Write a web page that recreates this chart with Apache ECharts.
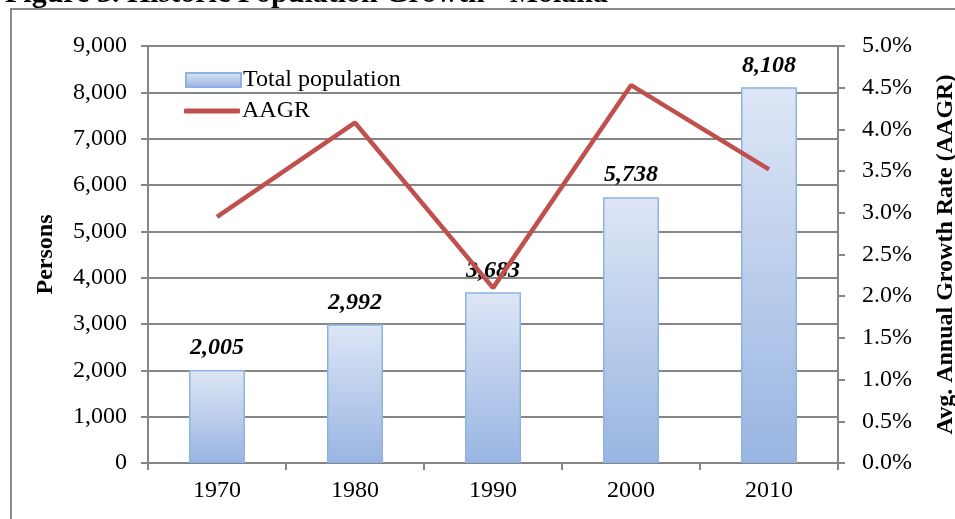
<!DOCTYPE html>
<html>
<head>
<meta charset="utf-8">
<script src="https://cdn.jsdelivr.net/npm/echarts@6/dist/echarts.min.js"></script>
<style>
  html, body { margin: 0; padding: 0; background: #fff; }
  #chart { width: 955px; height: 519px; }
</style>
</head>
<body>
<div id="chart"></div>
<script>
// Census years, total population and average annual growth rate (%)
const years = ['1970', '1980', '1990', '2000', '2010'];
const population = [2005, 2992, 3683, 5738, 8108];
const aagr = [2.95, 4.08, 2.10, 4.53, 3.52];

const serif = '"Liberation Serif", "Times New Roman", serif';
const axisGray = '#868686';
const lineRed = '#C0504D';

const chart = echarts.init(document.getElementById('chart'), null, { renderer: 'canvas' });

const fmtThousands = v => Number(v).toLocaleString('en-US');

const legendText = { fontFamily: serif, fontSize: 24, color: '#000', padding: [0, 0, 0, -3] };

chart.setOption({
  animation: false,
  backgroundColor: '#ffffff',
  textStyle: { fontFamily: serif },
  graphic: [
    {
      type: 'text',
      left: 5,
      top: -21,
      style: {
        text: 'Figure 3. Historic Population Growth - Molana',
        font: 'bold 30px ' + serif,
        fill: '#000'
      }
    },
    {
      type: 'line',
      shape: { x1: 11, y1: 9, x2: 11, y2: 519 },
      style: { stroke: '#8a8a8a', lineWidth: 2 }
    },
    {
      type: 'line',
      shape: { x1: 10, y1: 9, x2: 955, y2: 9 },
      style: { stroke: '#8a8a8a', lineWidth: 2 }
    }
  ],
  legend: [
    {
      left: 185,
      top: 68,
      padding: 0,
      itemWidth: 55,
      itemHeight: 14,
      textStyle: legendText,
      data: [{ name: 'Total population', icon: 'rect' }]
    },
    {
      left: 184,
      top: 99,
      padding: 0,
      itemWidth: 56,
      itemHeight: 5,
      textStyle: legendText,
      data: [{ name: 'AAGR', icon: 'roundRect', itemStyle: { color: lineRed } }]
    }
  ],
  grid: { left: 148, right: 117, top: 46, bottom: 56, outerBoundsMode: 'none', containLabel: false },
  xAxis: {
    type: 'category',
    data: years,
    boundaryGap: true,
    axisLine: { show: true, lineStyle: { color: axisGray, width: 2 } },
    axisTick: { show: true, alignWithLabel: false, length: 7, lineStyle: { color: axisGray, width: 2 } },
    axisLabel: { fontFamily: serif, fontSize: 24, color: '#000', margin: 16 }
  },
  yAxis: [
    {
      type: 'value',
      min: 0,
      max: 9000,
      interval: 1000,
      name: 'Persons',
      nameLocation: 'middle',
      nameGap: 90,
      nameTextStyle: { fontFamily: serif, fontSize: 24, fontWeight: 'bold', color: '#000' },
      axisLine: { show: true, lineStyle: { color: axisGray, width: 2 } },
      axisTick: { show: true, length: 7, lineStyle: { color: axisGray, width: 2 } },
      axisLabel: { fontFamily: serif, fontSize: 24, color: '#000', margin: 21, formatter: fmtThousands },
      splitLine: { show: true, lineStyle: { color: axisGray, width: 2 } }
    },
    {
      type: 'value',
      min: 0,
      max: 5,
      interval: 0.5,
      position: 'right',
      name: 'Avg. Annual Growth Rate (AAGR)',
      nameLocation: 'middle',
      nameGap: 96,
      nameRotate: 90,
      nameTextStyle: { fontFamily: serif, fontSize: 24, fontWeight: 'bold', color: '#000' },
      axisLine: { show: true, lineStyle: { color: axisGray, width: 2 } },
      axisTick: { show: true, length: 7, lineStyle: { color: axisGray, width: 2 } },
      axisLabel: { fontFamily: serif, fontSize: 24, color: '#000', margin: 24, formatter: v => v.toFixed(1) + '%' },
      splitLine: { show: false }
    }
  ],
  series: [
    {
      name: 'Total population',
      type: 'bar',
      yAxisIndex: 0,
      data: population,
      barWidth: 56,
      z: 2,
      itemStyle: {
        color: new echarts.graphic.LinearGradient(0, 0, 0, 1, [
          { offset: 0, color: '#DDE6F5' },
          { offset: 1, color: '#99B5E2' }
        ]),
        borderColor: '#8EB3E3',
        borderWidth: 1.5
      },
      label: {
        show: true,
        position: 'top',
        distance: 10,
        fontFamily: serif,
        fontSize: 24,
        fontWeight: 'bold',
        fontStyle: 'italic',
        color: '#000',
        formatter: p => fmtThousands(p.value)
      }
    },
    {
      name: 'AAGR',
      type: 'line',
      yAxisIndex: 1,
      data: aagr,
      z: 5,
      symbol: 'none',
      showSymbol: false,
      lineStyle: { color: lineRed, width: 4.5 },
      itemStyle: { color: lineRed }
    }
  ]
});
</script>
</body>
</html>
